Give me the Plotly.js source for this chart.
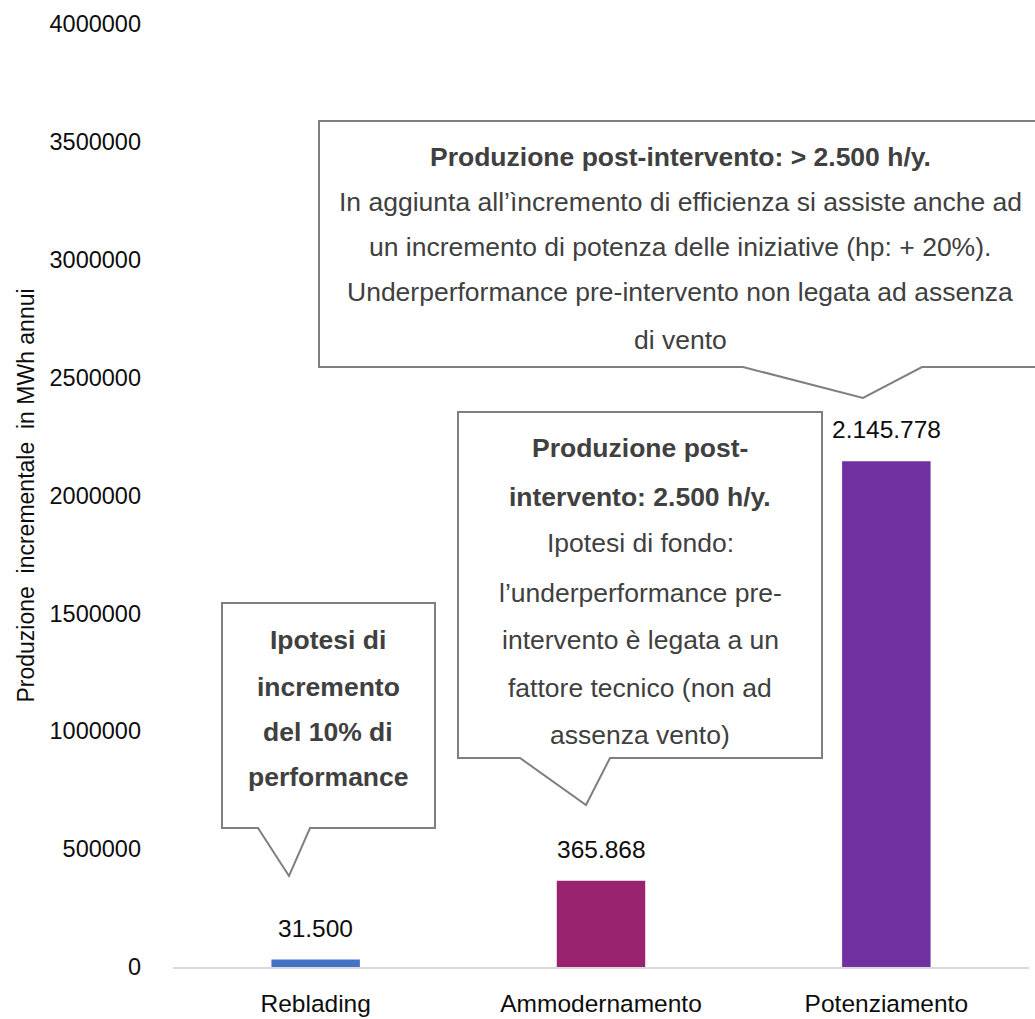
<!DOCTYPE html>
<html>
<head>
<meta charset="utf-8">
<script src="https://cdn.plot.ly/plotly-3.0.1.min.js"></script>
<style>html,body{margin:0;padding:0;background:#fff;}#chart{width:1035px;height:1019px;}</style>
</head>
<body>
<div id="chart"></div>
<script>
// ---- data ----
const categories = ["Reblading", "Ammodernamento", "Potenziamento"];
const values = [31500, 365868, 2145778];
const barColors = ["#4472C4", "#9A2370", "#7030A0"];
const yTickValues = [0, 500000, 1000000, 1500000, 2000000, 2500000, 3000000, 3500000, 4000000];
const yTitle = "Produzione  incrementale  in MWh annui";

const callout1Lines = ["<b>Ipotesi di</b>", "<b>incremento</b>", "<b>del 10% di</b>", "<b>performance</b>"];
const callout2Lines = ["<b>Produzione post-</b>", "<b>intervento: 2.500 h/y.</b>", "Ipotesi di fondo:",
  "l\u2019underperformance pre-", "intervento è legata a un", "fattore tecnico (non ad", "assenza vento)"];
const callout3Lines = ["<b>Produzione post-intervento: > 2.500 h/y.</b>",
  "In aggiunta all\u2019ìncremento di efficienza si assiste anche ad",
  "un incremento di potenza delle iniziative (hp: + 20%).",
  "Underperformance pre-intervento non legata ad assenza",
  "di vento"];

// ---- layout geometry (pixels) ----
const W = 1035, H = 1019;
const M = {l: 173, r: 6, t: 24, b: 52};
const plotW = W - M.l - M.r, plotH = H - M.t - M.b;
const px = x => (x - M.l) / plotW;
const py = y => (H - M.b - y) / plotH;

const FONT = '"Liberation Sans Narrow", "Arial Narrow", "Liberation Sans", Arial, sans-serif';
const fmt = v => String(v).replace(/\B(?=(\d{3})+(?!\d))/g, ".");

// callout bubble path (box with tail), pixel coords -> paper
function bubble(x0, y0, x1, y1, tA, tTip, tB) {
  const pts = [[x0, y0], [x1, y0], [x1, y1], [tB[0], y1], [tTip[0], tTip[1]], [tA[0], y1], [x0, y1]];
  return "M " + pts.map(p => px(p[0]).toFixed(5) + "," + py(p[1]).toFixed(5)).join(" L ") + " Z";
}

const shapes = [
  {type: "path", xref: "paper", yref: "paper", path: bubble(222, 603, 435, 828, [258], [289, 876], [310]),
   line: {color: "#7F7F7F", width: 2}, fillcolor: "rgba(255,255,255,1)", layer: "above"},
  {type: "path", xref: "paper", yref: "paper", path: bubble(458, 412, 822, 758, [520], [586, 805], [610]),
   line: {color: "#7F7F7F", width: 2}, fillcolor: "rgba(255,255,255,1)", layer: "above"},
  {type: "path", xref: "paper", yref: "paper", path: bubble(319, 121, 1045, 367, [743], [863, 398], [922]),
   line: {color: "#7F7F7F", width: 2}, fillcolor: "rgba(255,255,255,1)", layer: "above"}
];

const annotations = [];
function addLines(lines, cx, ys) {
  lines.forEach((t, i) => annotations.push({
    xref: "paper", yref: "paper", x: px(cx), y: py(ys[i]), xanchor: "center", yanchor: "middle",
    text: t, showarrow: false, font: {family: FONT, size: 26.5, color: "#404040"}
  }));
}
addLines(callout1Lines, 328, [640, 687, 732, 777]);
addLines(callout2Lines, 640, [448, 497, 543, 593, 640, 688, 735]);
addLines(callout3Lines, 680, [157, 202, 247, 292, 340]);

categories.forEach((c, i) => annotations.push({
  x: c, y: values[i], xref: "x", yref: "y", text: fmt(values[i]), showarrow: false,
  xanchor: "center", yanchor: "bottom", yshift: 16,
  font: {family: FONT, size: 24.5, color: "#0D0D0D"}
}));

const trace = {
  type: "bar", x: categories, y: values, width: 0.31,
  marker: {color: barColors}, hoverinfo: "skip"
};

const layout = {
  width: W, height: H, margin: M,
  paper_bgcolor: "#fff", plot_bgcolor: "#fff",
  showlegend: false,
  font: {family: FONT, size: 24, color: "#0D0D0D"},
  xaxis: {
    type: "category", range: [-0.5, 2.5], showgrid: false, zeroline: false,
    showline: true, linecolor: "#D9D9D9", linewidth: 2, ticks: "", ticklabelstandoff: 14,
    tickfont: {family: FONT, size: 24.5, color: "#0D0D0D"}, fixedrange: true
  },
  yaxis: {
    range: [0, 4000000], tickvals: yTickValues, ticktext: yTickValues.map(String),
    showgrid: false, zeroline: false, showline: false, ticks: "", ticklabelstandoff: 31,
    tickfont: {family: FONT, size: 23.5, color: "#0D0D0D"},
    title: {text: yTitle, font: {family: FONT, size: 23, color: "#0D0D0D"}, standoff: 8},
    automargin: false, fixedrange: true
  },
  shapes: shapes,
  annotations: annotations
};

Plotly.newPlot("chart", [trace], layout, {displayModeBar: false, staticPlot: true});
</script>
</body>
</html>
